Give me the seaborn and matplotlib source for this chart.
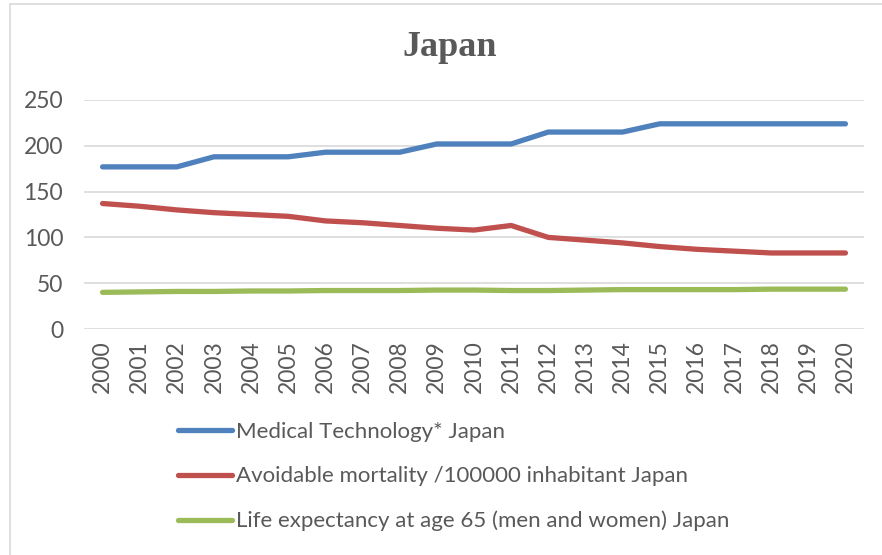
import numpy as np
import pandas as pd
import matplotlib
matplotlib.use("Agg")
import matplotlib.pyplot as plt
import seaborn as sns
from matplotlib.lines import Line2D

years = [str(y) for y in range(2000, 2021)]
medical_tech = [177, 177, 177, 188, 188, 188, 193, 193, 193, 202, 202, 202,
                215, 215, 215, 224, 224, 224, 224, 224, 224]
avoidable_mortality = [137, 134, 130, 127, 125, 123, 118, 116, 113, 110, 108, 113,
                       100, 97, 94, 90, 87, 85, 83, 83, 83]
life_expectancy = [40, 40.5, 41, 41, 41.5, 41.5, 42, 42, 42, 42.5, 42.5, 42,
                   42, 42.5, 43, 43, 43, 43, 43.5, 43.5, 43.5]
series_names = ["Medical Technology* Japan",
                "Avoidable mortality /100000 inhabitant Japan",
                "Life expectancy at age 65 (men and women) Japan"]
colors = ["#4F81BD", "#C0504D", "#9BBB59"]

df = pd.DataFrame({
    "year": years * 3,
    "value": medical_tech + avoidable_mortality + life_expectancy,
    "series": np.repeat(series_names, len(years)),
})

sns.set_style("white")
plt.rcParams["font.family"] = ["Lato", "DejaVu Sans"]
text_color = "#595959"

fig = plt.figure(figsize=(8.82, 5.55), dpi=100)
ax = fig.add_axes([84 / 882, 1 - 329 / 555, (864 - 84) / 882, (329 - 100) / 555])

sns.lineplot(data=df, x="year", y="value", hue="series", palette=colors,
             linewidth=3.8, ax=ax, legend=False, sort=False)
for line in ax.lines:
    line.set_solid_capstyle("round")
    line.set_solid_joinstyle("round")

ax.set_xlim(-0.5, 20.5)
ax.set_ylim(0, 250)
ax.set_yticks(range(0, 251, 50))
ax.yaxis.grid(True, color="#D9D9D9", linewidth=1.2)
ax.set_axisbelow(True)
for s in ax.spines.values():
    s.set_visible(False)
ax.set_xlabel("")
ax.set_ylabel("")
ax.tick_params(axis="x", rotation=90, labelsize=16.5, colors=text_color, length=0, pad=8)
ax.tick_params(axis="y", labelsize=16.5, colors=text_color, length=0, pad=15)

fig.text(0.51, 1 - 47 / 555, "Japan", ha="center", va="center", fontsize=26,
         fontweight="bold", family="Liberation Serif", color=text_color)

handles = [Line2D([], [], color=c, linewidth=3.8, solid_capstyle="round") for c in colors]
fig.legend(handles, series_names, loc="upper left",
           bbox_to_anchor=(178 / 882, 1 - 422 / 555), frameon=False,
           fontsize=16, labelcolor=text_color, handlelength=2.45,
           handletextpad=0.15, labelspacing=1.1, borderaxespad=0,
           borderpad=0)

# outer chart frame (left and top edges visible)
fig.add_artist(Line2D([10 / 882, 10 / 882], [0, 1 - 4 / 555], color="#D9D9D9",
                      linewidth=1.2, transform=fig.transFigure))
fig.add_artist(Line2D([10 / 882, 1], [1 - 4 / 555, 1 - 4 / 555], color="#D9D9D9",
                      linewidth=1.2, transform=fig.transFigure))

fig.savefig("out.png", dpi=100)
